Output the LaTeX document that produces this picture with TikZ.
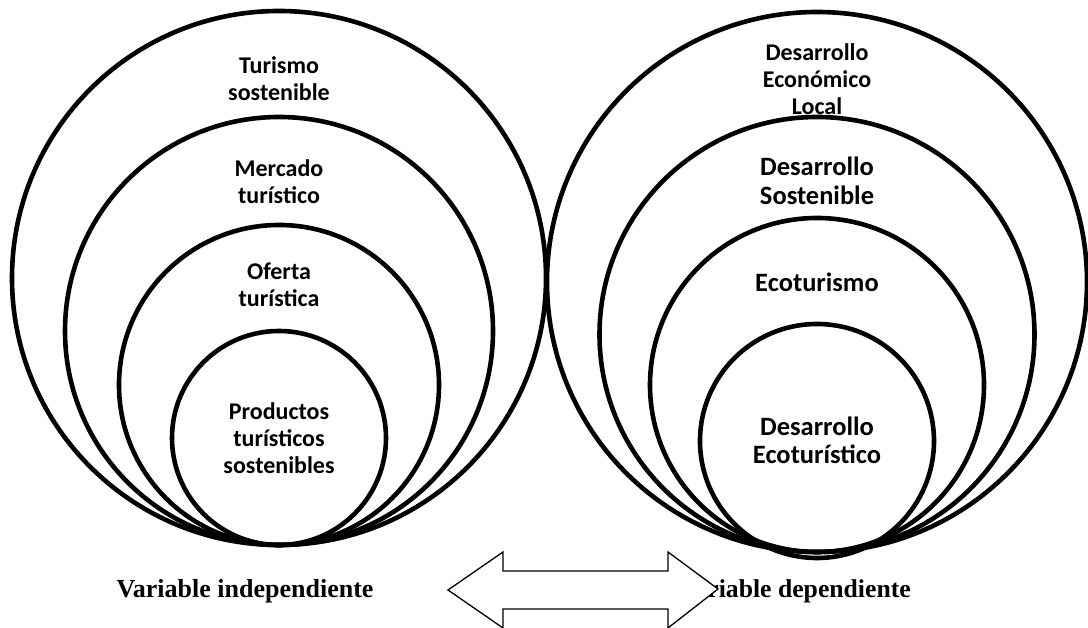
\documentclass[tikz,border=0pt]{standalone}
\usepackage{fontspec}
\setmainfont{Liberation Serif}
\newfontfamily\calib{Carlito}
\begin{document}
\begin{tikzpicture}[x=1pt,y=1pt,
  ring/.style={circle,draw=black,line width=4.6pt,inner sep=0pt,outer sep=0pt},
  lbl/.style={font=\calib\bfseries\fontsize{24}{27}\selectfont,align=center,inner sep=0pt},
  lblbig/.style={font=\calib\bfseries\fontsize{26.5}{28.5}\selectfont,align=center,inner sep=0pt},
  vlab/.style={font=\bfseries\fontsize{26}{30}\selectfont,inner sep=0pt},
  vlabr/.style={font=\bfseries\fontsize{25.7}{30}\selectfont,inner sep=0pt},
  dblarrow/.style={draw=black,fill=white,line width=1.3pt,line join=miter}]
\useasboundingbox (0,0) rectangle (1088,628);
% left group
\node[ring,minimum size=534pt] (L1) at (279,350) {};
\node[ring,minimum size=428pt] (L2) at (279,297) {};
\node[ring,minimum size=320pt] (L3) at (279,243) {};
\node[ring,minimum size=214pt] (L4) at (279,190) {};
% right group
\node[ring,minimum size=540pt] (R1) at (817,346) {};
\node[ring,minimum size=435pt] (R2) at (817,293.5) {};
\node[ring,minimum size=334pt] (R3) at (817,243) {};
\node[ring,minimum size=234pt] (R4) at (817,187) {};
% left labels
\node[lbl] (t1) at (279,549.5) {Turismo\\sostenible};
\node[lbl] (t2) at (279,446.5) {Mercado\\turístico};
\node[lbl] (t3) at (279,343) {Oferta\\turística};
\node[lbl] (t4) at (279,190) {Productos\\turísticos\\sostenibles};
% right labels
\node[lbl] (u1) at (817,548.5) {Desarrollo\\Económico\\Local};
\node[lblbig] (u2) at (817,447) {Desarrollo\\Sostenible};
\node[lblbig] (u3) at (817,346) {Ecoturismo};
\node[lblbig] (u4) at (817,187.5) {Desarrollo\\Ecoturístico};
% bottom labels
\node[vlab,anchor=base] (vi) at (245,30) {Variable independiente};
\node[vlabr,anchor=base east] (vd) at (911,30) {Variable dependiente};
% double arrow
\draw[dblarrow] (448,38) -- (503,76) -- (503,57) -- (668,57) -- (668,76) -- (718,39)
  -- (668,0) -- (668,19) -- (503,19) -- (503,0) -- cycle;
\end{tikzpicture}
\end{document}
